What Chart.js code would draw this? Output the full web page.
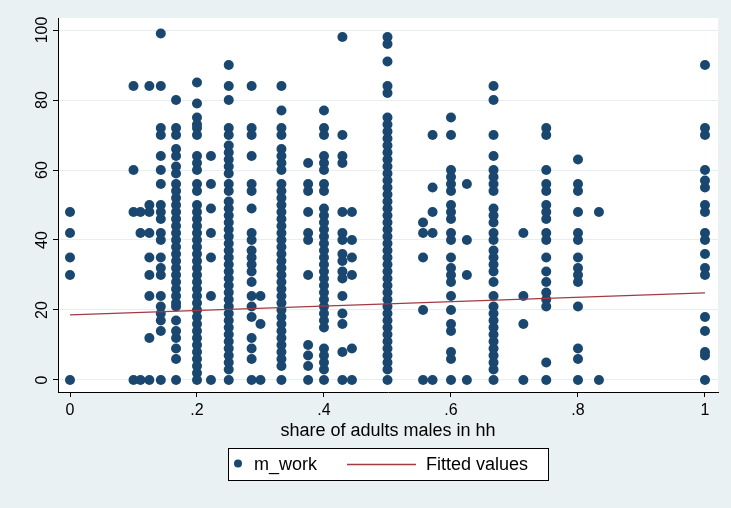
<!DOCTYPE html>
<html><head><meta charset="utf-8">
<script src="https://cdn.jsdelivr.net/npm/chart.js@4.4.1/dist/chart.umd.min.js"></script>
<style>html,body{margin:0;padding:0;background:#EAF1F3;} #wrap{width:731px;height:508px;}</style>
</head><body><div id="wrap"><canvas id="c" width="731" height="508"></canvas></div>
<script>
// share of adult males in household (x columns)
const columnX = [0, 0.1, 0.111, 0.125, 0.143, 0.167, 0.2, 0.222, 0.25, 0.286, 0.3, 0.333, 0.375, 0.4, 0.429, 0.444, 0.5, 0.556, 0.571, 0.6, 0.625, 0.667, 0.714, 0.75, 0.8, 0.833, 1];
// m_work values observed in each column
const columnY = [
  [48, 42, 35, 30, 0],
  [84, 60, 48, 0],
  [48, 42, 0],
  [84, 50, 48, 42, 35, 30, 24, 12, 0],
  [99, 84, 72, 70, 64, 60, 56, 50, 48, 46, 42, 40, 35, 32, 30, 24, 21, 19, 17, 14, 0],
  [80, 72, 70, 66, 64, 61, 59, 56, 54, 52, 50, 48, 46, 44, 42, 40, 38, 36, 34, 32, 30, 28, 26, 24, 22, 21, 17, 14, 12, 9, 6, 0],
  [85, 79, 75, 73, 72, 70, 64, 62, 60, 56, 54, 50, 48, 46, 44, 42, 40, 38, 36, 34, 32, 30, 28, 26, 24, 22, 20, 18, 16, 14, 12, 10, 8, 6, 4, 2, 0],
  [64, 56, 49, 42, 35, 24, 0],
  [90, 84, 80, 72, 70, 67, 65, 63, 61, 59, 56, 54, 51, 49, 47, 45, 43, 41, 39, 37, 35, 33, 31, 29, 27, 25, 23, 21, 19, 17, 15, 13, 11, 9, 7, 5, 3, 0],
  [84, 72, 70, 64, 56, 54, 49, 42, 40, 37, 35, 33, 31, 28, 24, 21, 18, 12, 9, 6, 0],
  [24, 16, 0],
  [84, 77, 72, 70, 66, 64, 62, 60, 56, 54, 52, 50, 48, 46, 44, 42, 40, 38, 36, 34, 32, 30, 28, 26, 24, 22, 20, 18, 16, 14, 12, 10, 8, 6, 4, 0],
  [62, 56, 54, 48, 42, 40, 30, 10, 7, 4, 0],
  [77, 72, 70, 64, 62, 60, 56, 54, 49, 47, 45, 43, 41, 39, 37, 35, 33, 31, 29, 27, 25, 23, 21, 19, 17, 15, 9, 7, 5, 3, 0],
  [98, 70, 64, 62, 48, 42, 40, 36, 34, 31, 29, 24, 19, 16, 8, 0],
  [48, 40, 35, 30, 9, 0],
  [98, 96, 91, 84, 82, 75, 73, 71, 69, 67, 65, 63, 61, 59, 57, 55, 53, 51, 49, 47, 45, 43, 41, 39, 37, 35, 33, 31, 29, 27, 25, 23, 21, 19, 17, 15, 13, 11, 9, 7, 5, 3, 0],
  [45, 42, 35, 20, 0],
  [70, 55, 48, 42, 0],
  [75, 70, 60, 58, 56, 54, 50, 48, 46, 42, 40, 35, 32, 30, 28, 24, 20, 16, 14, 8, 6, 0],
  [56, 40, 30, 0],
  [84, 80, 70, 64, 60, 58, 56, 54, 49, 47, 45, 42, 40, 37, 35, 33, 31, 28, 24, 21, 19, 17, 15, 13, 11, 9, 7, 5, 3, 0],
  [42, 24, 16, 0],
  [72, 70, 60, 56, 54, 50, 48, 46, 42, 40, 35, 31, 28, 25, 23, 21, 5, 0],
  [63, 56, 54, 48, 42, 40, 35, 32, 30, 28, 21, 9, 6, 0],
  [48, 0],
  [90, 72, 70, 60, 57, 55, 50, 48, 42, 40, 36, 32, 30, 18, 14, 8, 7, 0]
];
// linear fit end points
const fitX = [0, 1];
const fitY = [18.6, 24.9];
const xTicks = [0, 0.2, 0.4, 0.6, 0.8, 1];
const xTickLabels = ['0', '.2', '.4', '.6', '.8', '1'];
const yTicks = [0, 20, 40, 60, 80, 100];
const seriesNames = ['m_work', 'Fitted values'];
const xTitle = 'share of adults males in hh';

const NAVY = '#1A476F', MAROON = '#A13A45';
const FONT = '"Liberation Sans", Arial, Helvetica, sans-serif';

const scatterPts = [];
columnX.forEach((x, i) => columnY[i].forEach(y => scatterPts.push({x, y})));
const fitPts = fitX.map((x, i) => ({x, y: fitY[i]}));

const bgPlugin = {
  id: 'bg',
  beforeDraw(chart) {
    const {ctx, chartArea: a} = chart;
    ctx.save();
    ctx.fillStyle = '#EAF1F3';
    ctx.fillRect(0, 0, chart.width, chart.height);
    ctx.fillStyle = '#FFFFFF';
    ctx.fillRect(a.left, a.top, a.right - a.left, a.bottom - a.top);
    ctx.restore();
  }
};
const legendPlugin = {
  id: 'stataLegend',
  afterDraw(chart) {
    const ctx = chart.ctx;
    ctx.save();
    ctx.fillStyle = '#FFFFFF';
    ctx.fillRect(228.5, 448.5, 320, 32);
    ctx.strokeStyle = '#000000';
    ctx.lineWidth = 1;
    ctx.strokeRect(228.5, 448.5, 320, 32);
    const cy = 464.5;
    ctx.fillStyle = NAVY;
    ctx.beginPath(); ctx.arc(238, cy - 1, 4, 0, Math.PI * 2); ctx.fill();
    ctx.strokeStyle = MAROON; ctx.lineWidth = 1.3;
    ctx.beginPath(); ctx.moveTo(347, cy); ctx.lineTo(416, cy); ctx.stroke();
    ctx.fillStyle = '#000000';
    ctx.font = '18px ' + FONT;
    ctx.textBaseline = 'middle';
    ctx.fillText(seriesNames[0], 254, cy + 1);
    ctx.fillText(seriesNames[1], 426, cy + 1);
    ctx.restore();
  }
};

new Chart(document.getElementById('c'), {
  type: 'scatter',
  data: {
    datasets: [
      { label: seriesNames[0], data: scatterPts, backgroundColor: NAVY, borderWidth: 0, pointRadius: 5, pointHoverRadius: 5, order: 2 },
      { type: 'line', label: seriesNames[1], data: fitPts, borderColor: MAROON, borderWidth: 1.3, pointRadius: 0, fill: false, order: 1 }
    ]
  },
  options: {
    responsive: false, animation: false, devicePixelRatio: 1,
    layout: { padding: { left: 0, right: 13, top: 18, bottom: 0 } },
    plugins: { legend: { display: false }, tooltip: { enabled: false } },
    scales: {
      x: {
        type: 'linear', min: -0.0189, max: 1.0205,
        afterBuildTicks: s => { s.ticks = xTicks.map(v => ({value: v})); },
        afterFit: s => { s.height = 116; },
        ticks: { color: '#000', font: { size: 16, family: FONT }, padding: 4, maxRotation: 0, minRotation: 0,
          callback: (v, i) => xTickLabels[i] },
        grid: { drawOnChartArea: false, drawTicks: true, tickLength: 5, tickColor: '#000', tickWidth: 1 },
        border: { color: '#000', width: 1 },
        title: { display: true, text: xTitle, color: '#000', font: { size: 18, family: FONT }, padding: { top: 0, bottom: 66 } }
      },
      y: {
        type: 'linear', min: -3.43, max: 103.43,
        afterBuildTicks: s => { s.ticks = yTicks.map(v => ({value: v})); },
        afterFit: s => { s.width = 58; },
        ticks: { color: '#000', font: { size: 16, family: FONT }, padding: -3, minRotation: 90, maxRotation: 90, crossAlign: 'center',
          callback: v => String(v) },
        grid: { color: '#E6EEF1', lineWidth: 1, drawTicks: true, tickLength: 5, tickColor: '#000', tickWidth: 1 },
        border: { color: '#000', width: 1 }
      }
    }
  },
  plugins: [bgPlugin, legendPlugin]
});
</script>
</body></html>
